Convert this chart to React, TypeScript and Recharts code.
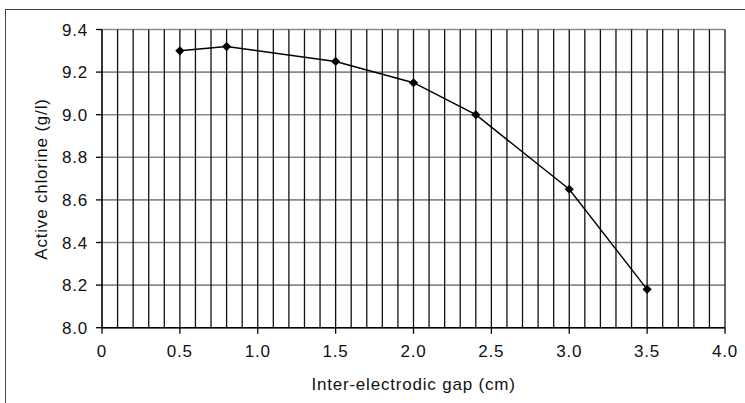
import { LineChart, Line, XAxis, YAxis, CartesianGrid, ReferenceLine, Label } from "recharts";

// inter-electrodic gap (cm) vs active chlorine (g/l)
const gapCm = [0.5, 0.8, 1.5, 2.0, 2.4, 3.0, 3.5];
const chlorine = [9.3, 9.32, 9.25, 9.15, 9.0, 8.65, 8.18];

const xTicks = [0, 0.5, 1.0, 1.5, 2.0, 2.5, 3.0, 3.5, 4.0];
const yTicks = [8.0, 8.2, 8.4, 8.6, 8.8, 9.0, 9.2, 9.4];
const xGridLines = [
  0.1, 0.2, 0.3, 0.4, 0.5, 0.6, 0.7, 0.8, 0.9, 1.0,
  1.1, 1.2, 1.3, 1.4, 1.5, 1.6, 1.7, 1.8, 1.9, 2.0,
  2.1, 2.2, 2.3, 2.4, 2.5, 2.6, 2.7, 2.8, 2.9, 3.0,
  3.1, 3.2, 3.3, 3.4, 3.5, 3.6, 3.7, 3.8, 3.9, 4.0,
];

const data = gapCm.map((gap, i) => ({ gap, value: chlorine[i] }));

const FONT = "'Liberation Sans', Arial, Helvetica, sans-serif";
const tickStyle = { fontSize: 17, fill: "#111", fontFamily: FONT, letterSpacing: 0.8 };

const Diamond = (props: any) => {
  const { cx, cy, index } = props;
  if (cx == null || cy == null) return null;
  const r = 4.6;
  return (
    <polygon
      key={`d-${index}`}
      points={`${cx},${cy - r} ${cx + r},${cy} ${cx},${cy + r} ${cx - r},${cy}`}
      fill="#000"
    />
  );
};

const XTitle = (props: any) => {
  const vb = props.viewBox || { x: 102, width: 623 };
  return (
    <text x={vb.x + vb.width / 2} y={390} textAnchor="middle" style={tickStyle}>
      Inter-electrodic gap (cm)
    </text>
  );
};

const YTitle = () => (
  <text x={47} y={179} textAnchor="middle" transform="rotate(-90, 47, 179)" style={tickStyle}>
    Active chlorine (g/l)
  </text>
);

export default function App() {
  return (
    <div
      style={{
        position: "relative",
        width: 745,
        height: 403,
        overflow: "hidden",
        background: "#fff",
        fontFamily: FONT,
      }}
    >
      <style>{"body { margin: 0; }"}</style>
      <div style={{ position: "absolute", left: 0, top: 0 }}>
        <LineChart
          width={745}
          height={403}
          data={data}
          margin={{ top: 29.5, right: 20, left: 42, bottom: 15.3 }}
        >
          <CartesianGrid vertical={false} stroke="#8a8a8a" strokeWidth={1.6} />
          {xGridLines.map((v) => (
            <ReferenceLine key={v} x={v} stroke="#111" strokeWidth={1.3} ifOverflow="extendDomain" />
          ))}
          <XAxis
            dataKey="gap"
            type="number"
            domain={[0, 4]}
            ticks={xTicks}
            allowDataOverflow
            tickFormatter={(v: number) => (v === 0 ? "0" : v.toFixed(1))}
            height={60}
            tickSize={6}
            tickMargin={11}
            tick={tickStyle}
            axisLine={{ stroke: "#000", strokeWidth: 1.6 }}
            tickLine={{ stroke: "#000", strokeWidth: 1.3 }}
          >
            <Label content={XTitle} />
          </XAxis>
          <YAxis
            type="number"
            domain={[8, 9.4]}
            ticks={yTicks}
            allowDataOverflow
            tickFormatter={(v: number) => v.toFixed(1)}
            width={60}
            tickSize={6}
            tickMargin={8}
            tick={tickStyle}
            axisLine={{ stroke: "#000", strokeWidth: 1.6 }}
            tickLine={{ stroke: "#000", strokeWidth: 1.3 }}
          >
            <Label content={YTitle} />
          </YAxis>
          <Line
            type="linear"
            dataKey="value"
            stroke="#000"
            strokeWidth={1.4}
            dot={Diamond}
            activeDot={false}
            isAnimationActive={false}
          />
        </LineChart>
      </div>
      {/* outer frame, cut off at the right and bottom edges */}
      <div
        style={{
          position: "absolute",
          left: 5,
          top: 9,
          width: 800,
          height: 450,
          borderTop: "1.5px solid #444",
          borderLeft: "1.5px solid #444",
          pointerEvents: "none",
        }}
      />
    </div>
  );
}
